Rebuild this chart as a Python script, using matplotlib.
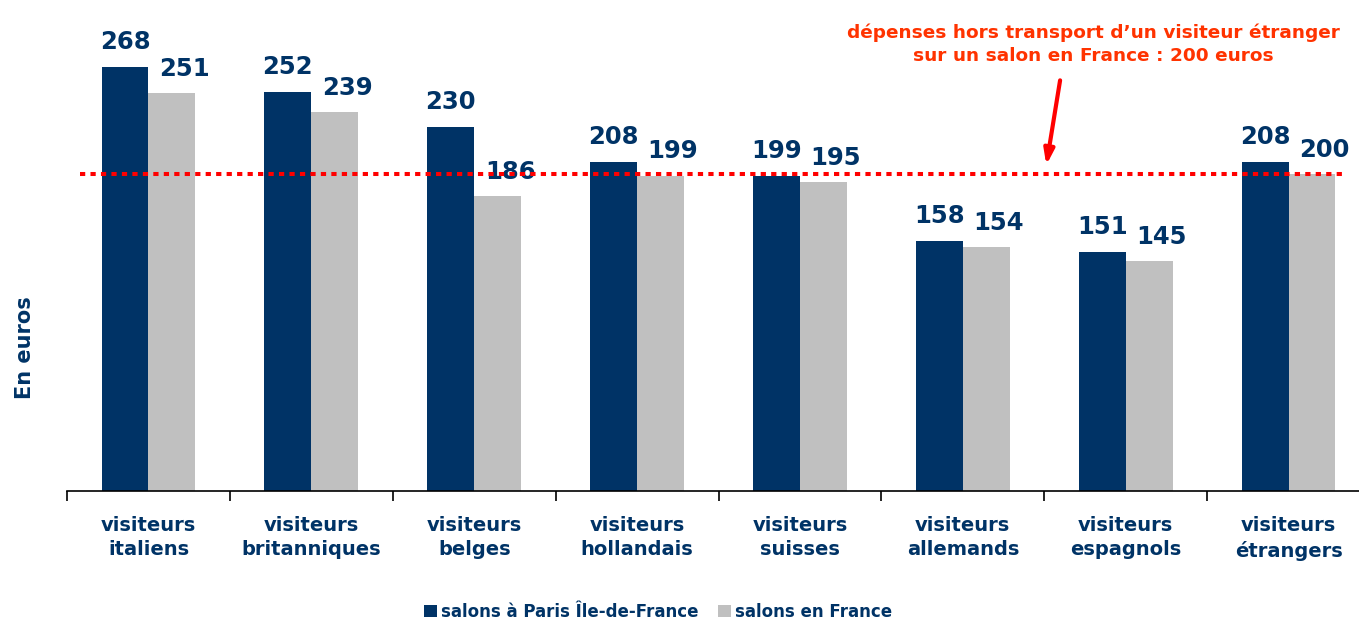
import numpy as np
import matplotlib.pyplot as plt

categories = ["visiteurs\nitaliens", "visiteurs\nbritanniques", "visiteurs\nbelges",
              "visiteurs\nhollandais", "visiteurs\nsuisses", "visiteurs\nallemands",
              "visiteurs\nespagnols", "visiteurs\nétrangers"]
paris = [268, 252, 230, 208, 199, 158, 151, 208]
france = [251, 239, 186, 199, 195, 154, 145, 200]
reference = 200

navy = '#003366'
grey = '#C0C0C0'
red = '#FF0000'

fig = plt.figure(figsize=(13.59, 6.22), dpi=100)
ax = fig.add_axes([67/1359, 1 - 491/622, 1303/1359, 491/622])

x = np.arange(len(categories))
w = 0.288
b1 = ax.bar(x - w/2, paris, w, color=navy, label='salons à Paris Île-de-France')
b2 = ax.bar(x + w/2, france, w, color=grey, label='salons en France')

# labels of the grey bars sit a bit to the right, as in the original
for bars, vals, dx in ((b1, paris, 0), (b2, france, 9)):
    for r, v in zip(bars, vals):
        ax.annotate(str(v), (r.get_x() + r.get_width()/2, v), xytext=(dx, 9),
                    textcoords='offset points', ha='center', va='bottom',
                    fontsize=17.5, fontweight='bold', color=navy)

ax.hlines(reference, -0.42, 7.33, colors=red, linewidth=2.9,
          linestyles=(0, (1.3, 1.3)), zorder=3)

ax.annotate('', xy=(5.51, 204), xytext=(5.60, 261),
            arrowprops=dict(arrowstyle='-|>,head_length=0.9,head_width=0.3',
                            color=red, lw=3))
ax.text(5.80, 282, "dépenses hors transport d’un visiteur étranger\nsur un salon en France : 200 euros",
        ha='center', va='center', fontsize=13.3, fontweight='bold', color='#FF3300',
        linespacing=1.3)

ax.set_xlim(-0.5, 7.5)
ax.set_ylim(0, 310)
for s in ['top', 'right', 'left']:
    ax.spines[s].set_visible(False)
ax.spines['bottom'].set_linewidth(1.2)
ax.set_yticks([])
ax.set_xticks(x)
ax.set_xticklabels(categories, fontsize=14, fontweight='bold', color=navy, linespacing=1.35)
ax.tick_params(axis='x', which='major', length=0, pad=18)
ax.set_xticks(np.arange(-0.5, 8, 1), minor=True)
ax.tick_params(axis='x', which='minor', length=7, width=1.2, direction='out')

fig.text(25/1359, 1 - 348/622, 'En euros', rotation=90, ha='center', va='center',
         fontsize=15, fontweight='bold', color=navy)

leg = fig.legend(handles=[b1, b2], loc='center', bbox_to_anchor=(658/1359, 1 - 612/622),
                 ncol=2, frameon=False, handlelength=0.75, handleheight=0.75,
                 handletextpad=0.25, columnspacing=1.2,
                 prop={'size': 12, 'weight': 'bold'})
for t in leg.get_texts():
    t.set_color(navy)

fig.savefig('out.png', dpi=100)
